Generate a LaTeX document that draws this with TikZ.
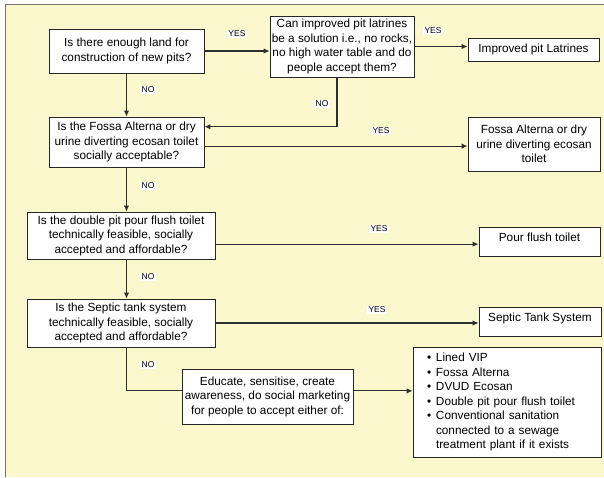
\documentclass[tikz,border=0pt]{standalone}
\usepackage{fontspec}
\setmainfont{Liberation Sans}
\usetikzlibrary{arrows.meta,calc}
\definecolor{cream}{RGB}{252,248,206}
\definecolor{framegray}{RGB}{115,115,115}
\definecolor{linkgray}{RGB}{45,45,45}
\newcommand{\itm}{\makebox[9pt][l]{\textbullet}}
\tikzset{
	qbox/.style={draw=black!85, fill=white, line width=0.9pt, align=center, inner sep=0pt, font=\fontsize{11.8pt}{14.5pt}\selectfont},
	abox/.style={qbox, text height=14pt, text depth=15pt},
	tag/.style={fill=white, inner sep=1.2pt, font=\fontsize{8.5pt}{10pt}\selectfont},
	link/.style={draw=linkgray, line width=1.1pt, -{Latex[length=6pt,width=5.5pt]}},
	plain/.style={draw=linkgray, line width=1.1pt}
}
\begin{document}
\begin{tikzpicture}[x=1pt, y=-1pt]
	\useasboundingbox (0,0) rectangle (604,477);
	%background and frame
	\fill[cream] (5,4.5) rectangle (604,477);
	\draw[framegray, line width=1.8pt] (5.5,477) -- (5.5,4.5) -- (604,4.5);
	
	%questions
	\node (land) at (126.5, 51) [qbox, minimum width=155pt, minimum height=44pt]{Is there enough land for\\construction of new pits?};
	\node (latrine) at (342, 46.5) [qbox, minimum width=144pt, minimum height=61pt]{Can improved pit latrines\\be a solution i.e., no rocks,\\no high water table and do\\people accept them?};
	\node (fossaq) at (126.5, 142) [qbox, minimum width=155pt, minimum height=50pt]{Is the Fossa Alterna or dry\\urine diverting ecosan toilet\\socially acceptable?};
	\node (pourq) at (121, 235.5) [qbox, minimum width=188pt, minimum height=47pt]{Is the double pit pour flush toilet\\technically feasible, socially\\accepted and affordable?};
	\node (septicq) at (121, 323) [qbox, minimum width=188pt, minimum height=48pt]{Is the Septic tank system\\technically feasible, socially\\accepted and affordable?};
	\node (educate) at (267.5, 396.5) [qbox, minimum width=171pt, minimum height=55pt]{Educate, sensitise, create\\awareness, do social marketing\\for people to accept either of:};
	
	%answers
	\node (improved) at (533.5, 49.5) [qbox, minimum width=131pt, minimum height=23pt]{Improved pit Latrines};
	\node (fossaa) at (534, 144) [qbox, minimum width=132pt, minimum height=54pt]{Fossa Alterna or dry\\urine diverting ecosan\\toilet};
	\node (poura) at (539.5, 241.5) [abox, minimum width=121pt]{Pour flush toilet};
	\node (septica) at (540, 321.5) [abox, minimum width=122pt]{Septic Tank System};
	\node (options) at (507, 402) [qbox, align=left, inner xsep=14pt, text width=160pt, minimum height=110pt]{\itm Lined VIP\\\itm Fossa Alterna\\\itm DVUD Ecosan\\\itm Double pit pour flush toilet\\\itm Conventional sanitation\\\hspace*{9pt}connected to a sewage\\\hspace*{9pt}treatment plant if it exists};
	
	%connector ends
	\coordinate (fossain) at ($(fossaq.north east)!0.2!(fossaq.south east)$);
	\coordinate (fossaout) at ($(fossaq.north east)!0.58!(fossaq.south east)$);
	\coordinate (pourout) at ($(pourq.north east)!0.68!(pourq.south east)$);
	\coordinate (educin) at ($(educate.north west)!0.4!(educate.south west)$);
	\coordinate (educout) at ($(educate.north east)!0.4!(educate.south east)$);
	
	%yes
	\draw[link] (land.east) -- (land.east -| latrine.west);
	\draw[link] (latrine.east) -- (latrine.east -| improved.west);
	\draw[link] (fossaout) -- (fossaout -| fossaa.west);
	\draw[link] (pourout) -- (pourout -| poura.west);
	\draw[link] (septicq.east) -- (septicq.east -| septica.west);
	\draw[link] (educout) -- (educout -| options.west);
	
	%no
	\draw[link] (land.south) -- (land.south |- fossaq.north);
	\draw[link] ([xshift=-5pt]latrine.south) |- (fossain);
	\draw[link] (fossaq.south) -- (fossaq.south |- pourq.north);
	\draw[link] (pourq.south -| fossaq.south) -- (septicq.north -| fossaq.south);
	\draw[plain] (septicq.south -| fossaq.south) |- (educin);
	
	%labels
	\foreach \x/\y/\t/\n in {237/34/YES/yesa, 433/31/YES/yesb, 381/131/YES/yesc, 379/229/YES/yesd, 377/310/YES/yese,
		148/90/NO/noa, 322/104/NO/nob, 148/186/NO/noc, 148/277/NO/nod, 148/365/NO/noe}{
		\node (\n) at (\x, \y) [tag]{\t};
	}
\end{tikzpicture}
\end{document}
